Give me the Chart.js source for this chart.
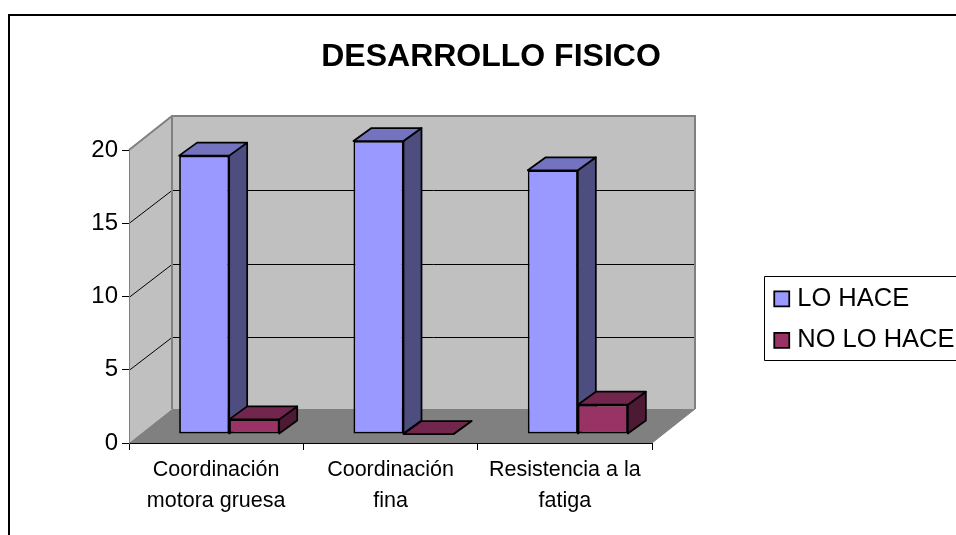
<!DOCTYPE html>
<html><head><meta charset="utf-8">
<style>html,body{margin:0;padding:0;background:#fff}#w{width:956px;height:535px;position:relative}canvas{display:block}</style>
<script src="https://cdn.jsdelivr.net/npm/chart.js@4"></script>
</head><body><div id="w"><canvas id="c" width="956" height="535"></canvas></div>
<script>
const categories = [["Coordinación","motora gruesa"],["Coordinación","fina"],["Resistencia a la","fatiga"]];
const loHace = [19,20,18];
const noLoHace = [1,0,2];
const yTicks = [0,5,10,15,20];
const seriesNames = ["LO HACE","NO LO HACE"];
const colours = ["#9999FF","#993366"];
const topColours = ["#7373BF","#73264D"];
const sideColours = ["#4D4D80","#4D1A33"];
const FONT = "'Liberation Sans', Arial, sans-serif";
const wallDX = 43, wallDY = -34, gridDY = -33, barDX = 13, barDY = -9, depthX = 18, depthY = -13;
const EDGE = 1.75;

function poly(ctx, pts, fill, stroke, lw){
  ctx.beginPath();
  pts.forEach((p,i)=> i?ctx.lineTo(p[0],p[1]):ctx.moveTo(p[0],p[1]));
  ctx.closePath();
  if(fill){ctx.fillStyle=fill;ctx.fill();}
  if(stroke){ctx.strokeStyle=stroke;ctx.lineWidth=lw||1;ctx.stroke();}
}
const plugin3d = {
  id:'plugin3d',
  afterLayout(chart){
    const t = chart.titleBlock; t.left = 191; t.right = 791;
    const l = chart.legend; l.left = 763; l.top = 270; l.right = 956; l.bottom = 500; l.width=193; l.height=230;
  },
  beforeDraw(chart){
    const {ctx, scales:{x,y}} = chart;
    const L=x.left, R=x.right, B=y.getPixelForValue(0), T=y.getPixelForValue(20);
    ctx.save();
    ctx.strokeStyle='#000';ctx.lineWidth=2;
    ctx.beginPath();ctx.moveTo(9,535);ctx.lineTo(9,15);ctx.lineTo(956,15);ctx.stroke();
    poly(ctx,[[L,B],[L,T],[L+wallDX,T+wallDY],[L+wallDX,B+wallDY]],'#C0C0C0');
    poly(ctx,[[L+wallDX,B+wallDY],[L+wallDX,T+wallDY],[R+wallDX,T+wallDY],[R+wallDX,B+wallDY]],'#C0C0C0');
    poly(ctx,[[L,B],[R,B],[R+wallDX,B+wallDY],[L+wallDX,B+wallDY]],'#808080');
    ctx.strokeStyle='#000';ctx.lineWidth=1;
    yTicks.slice(1,-1).forEach(v=>{
      const p=Math.round(y.getPixelForValue(v))+.5;
      ctx.beginPath();ctx.moveTo(L,p);ctx.lineTo(L+wallDX,p+gridDY);ctx.lineTo(R+wallDX,p+gridDY);ctx.stroke();
    });
    ctx.strokeStyle='#808080';ctx.lineWidth=2;
    ctx.beginPath();ctx.moveTo(L,T);ctx.lineTo(L+wallDX,T+wallDY);ctx.lineTo(R+wallDX,T+wallDY);ctx.lineTo(R+wallDX,B+wallDY);ctx.stroke();
    ctx.beginPath();ctx.moveTo(L+wallDX,T+wallDY);ctx.lineTo(L+wallDX,B+wallDY);ctx.stroke();
    ctx.lineWidth=1;
    ctx.beginPath();ctx.moveTo(R,B);ctx.lineTo(R+wallDX,B+wallDY);ctx.stroke();
    ctx.restore();
  },
  beforeDatasetsDraw(chart){
    const {ctx} = chart;
    ctx.save();
    ctx.translate(barDX,barDY);
    ctx.lineJoin='round';
    chart.data.datasets.forEach((ds,i)=>{
      chart.getDatasetMeta(i).data.forEach(b=>{
        const l=b.x-b.width/2, r=b.x+b.width/2, t=b.y, bt=b.base;
        poly(ctx,[[r,t],[r+depthX,t+depthY],[r+depthX,bt+depthY],[r,bt]],sideColours[i],'#000',EDGE);
        poly(ctx,[[l,t],[l+depthX,t+depthY],[r+depthX,t+depthY],[r,t]],topColours[i],'#000',EDGE);
      });
    });
  },
  afterDatasetsDraw(chart){ chart.ctx.restore(); },
  afterDraw(chart){
    const {ctx} = chart;
    ctx.save();ctx.strokeStyle='#000';ctx.lineWidth=1;
    ctx.beginPath();ctx.moveTo(956,276.5);ctx.lineTo(764.5,276.5);ctx.lineTo(764.5,360.5);ctx.lineTo(956,360.5);ctx.stroke();
    ctx.restore();
  }
};
new Chart(document.getElementById('c'),{
  type:'bar',
  data:{labels:categories,datasets:[
    {label:seriesNames[0],data:loHace,backgroundColor:colours[0],borderColor:'#000',borderWidth:EDGE,borderSkipped:false},
    {label:seriesNames[1],data:noLoHace,backgroundColor:colours[1],borderColor:'#000',borderWidth:EDGE,borderSkipped:false}
  ]},
  plugins:[plugin3d],
  options:{
    responsive:false,animation:false,
    layout:{padding:{left:0,right:304,top:0,bottom:0},autoPadding:false},
    datasets:{bar:{categoryPercentage:0.574,barPercentage:1}},
    plugins:{
      tooltip:{enabled:false},
      title:{display:true,text:"DESARROLLO FISICO",color:'#000',
        font:{family:FONT,size:32,weight:'bold',lineHeight:1.2},padding:{top:38,bottom:73.6}},
      legend:{display:true,position:'chartArea',align:'start',
        labels:{color:'#000',font:{family:FONT,size:25.5},boxWidth:5.5,boxHeight:15,padding:16,usePointStyle:true,
          generateLabels(){return seriesNames.map((n,i)=>({text:n,fillStyle:colours[i],strokeStyle:'#000',lineWidth:EDGE,pointStyle:'rect',datasetIndex:i}));}}}
    },
    scales:{
      x:{type:'category',offset:true,
        afterFit(s){s.height=92;},
        border:{display:true,color:'#000',width:1},
        grid:{display:true,offset:true,drawOnChartArea:false,drawTicks:true,tickLength:7,color:'#000'},
        ticks:{color:'#000',font:{family:FONT,size:21.5,lineHeight:1.42},maxRotation:0,minRotation:0,autoSkip:false,padding:5}},
      y:{min:0,max:20,
        afterFit(s){s.width=129;},
        afterBuildTicks(s){s.ticks=yTicks.map(v=>({value:v}));},
        border:{display:true,color:'#808080',width:1},
        grid:{display:true,drawOnChartArea:false,drawTicks:true,tickLength:7,color:'#000'},
        ticks:{color:'#000',font:{family:FONT,size:24},padding:4}}
    }
  }
});
</script></body></html>
